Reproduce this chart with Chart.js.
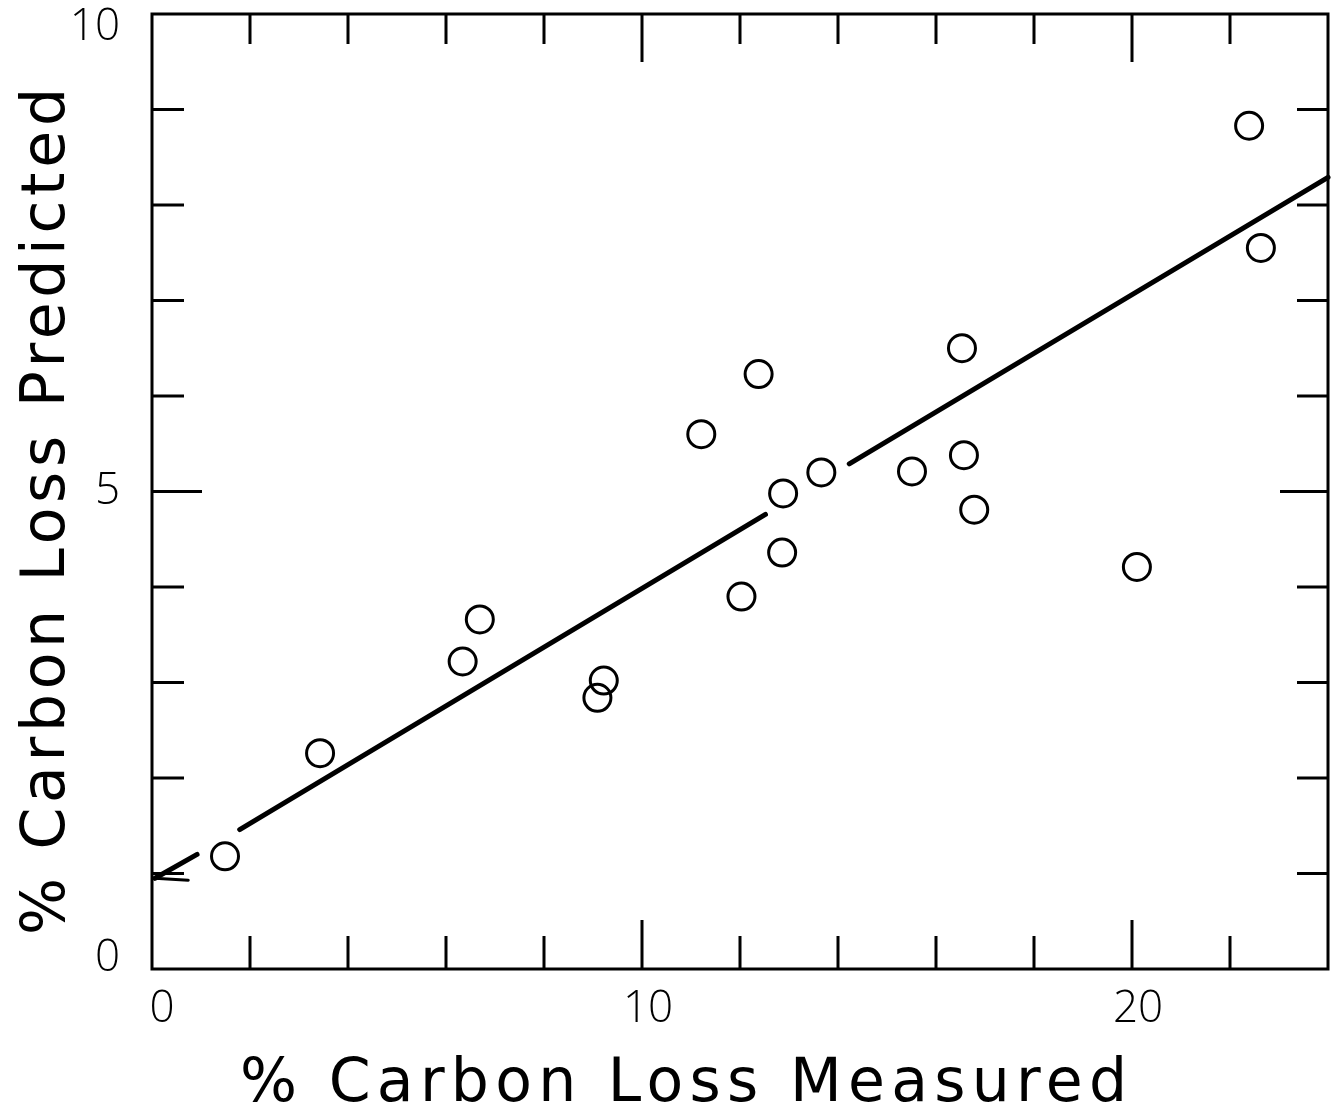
<!DOCTYPE html>
<html>
<head>
<meta charset="utf-8">
<script src="https://cdn.jsdelivr.net/npm/chart.js@4.4.1/dist/chart.umd.min.js"></script>
<style>
html,body{margin:0;padding:0;background:#ffffff;}
#wrap{width:1334px;height:1115px;position:relative;}
canvas{display:block;}
</style>
</head>
<body>
<div id="wrap"><canvas id="c" width="1334" height="1115"></canvas></div>
<script>
// ---- data ----
const measured  = [1.49, 3.43, 6.34, 6.69, 9.09, 9.22, 11.21, 12.03, 12.38, 12.86, 12.88, 13.66, 15.51, 16.53, 16.57, 16.78, 20.10, 22.39, 22.63];
const predicted = [1.18, 2.26, 3.22, 3.66, 2.84, 3.02, 5.60, 3.90, 6.23, 4.36, 4.98, 5.20, 5.21, 6.50, 5.38, 4.81, 4.21, 8.83, 7.55];

// fitted line, drawn as broken segments (null separates segments)
const fitX = [0.06, 0.74, null, 0.06, 0.92, null, 1.79, 12.52, null, 14.23, 24];
const fitY = [0.95, 0.93, null, 0.95, 1.20, null, 1.46, 4.76, null, 5.29, 8.29];

const xTicks = [0, 2, 4, 6, 8, 10, 12, 14, 16, 18, 20, 22, 24];
const xLabels = ['0', '10', '20'];
const yTicks = [0, 1, 2, 3, 4, 5, 6, 7, 8, 9, 10];
const yLabels = ['0', '5', '10'];
const xTitle = '% Carbon Loss Measured';
const yTitle = '% Carbon Loss Predicted';

// ---- build segments ----
const segments = [];
let cur = [];
for (let i = 0; i < fitX.length; i++) {
  if (fitX[i] === null) { if (cur.length) segments.push(cur); cur = []; }
  else cur.push({x: fitX[i], y: fitY[i]});
}
if (cur.length) segments.push(cur);

const datasets = [{
  type: 'scatter',
  label: 'points',
  data: measured.map((v, i) => ({x: v, y: predicted[i]})),
  pointRadius: 13.5,
  pointHoverRadius: 13.5,
  pointBorderWidth: 3,
  pointBackgroundColor: 'rgba(0,0,0,0)',
  pointBorderColor: '#000',
  showLine: false,
  clip: false
}];
segments.forEach((s, i) => datasets.push({
  type: 'line',
  label: 'fit' + i,
  data: s,
  borderColor: '#000',
  borderWidth: i === 0 ? 3 : 5,
  pointRadius: 0,
  borderCapStyle: 'round',
  fill: false,
  tension: 0,
  clip: false
}));

const TICK_FONT = '300 44px "Open Sans", "DejaVu Sans", sans-serif';
const TITLE_FONT = '60px "DejaVu Sans", sans-serif';

const framePlugin = {
  id: 'frame',
  afterDatasetsDraw(chart) {
    const ctx = chart.ctx;
    const a = chart.chartArea;
    const xs = chart.scales.x, ys = chart.scales.y;
    ctx.save();
    ctx.strokeStyle = '#000';
    ctx.lineWidth = 3;
    ctx.lineCap = 'butt';
    ctx.strokeRect(a.left, a.top, a.right - a.left, a.bottom - a.top);
    // x tick marks (bottom and top, inward)
    xTicks.forEach(v => {
      if (v === xs.min || v === xs.max) return;
      const px = xs.getPixelForValue(v);
      const major = v % 10 === 0;
      ctx.beginPath();
      ctx.moveTo(px, a.bottom); ctx.lineTo(px, a.bottom - (major ? 49 : 33));
      ctx.moveTo(px, a.top); ctx.lineTo(px, a.top + (major ? 48 : 30));
      ctx.stroke();
    });
    // y tick marks (left and right, inward)
    yTicks.forEach(v => {
      if (v === ys.min || v === ys.max) return;
      const py = ys.getPixelForValue(v);
      const major = v % 5 === 0;
      ctx.beginPath();
      ctx.moveTo(a.left, py); ctx.lineTo(a.left + (major ? 50 : 32), py);
      ctx.moveTo(a.right, py); ctx.lineTo(a.right - (major ? 48 : 31), py);
      ctx.stroke();
    });
    // tick labels
    ctx.fillStyle = '#000';
    ctx.font = TICK_FONT;
    ctx.textBaseline = 'middle';
    ctx.textAlign = 'center';
    xLabels.forEach(t => {
      const px = xs.getPixelForValue(+t);
      ctx.fillText(t, px + (t === '0' ? 10 : 6), a.bottom + 40);
    });
    ctx.textAlign = 'right';
    yLabels.forEach(t => {
      let py = ys.getPixelForValue(+t);
      if (+t === ys.max) py += 13;
      if (+t === ys.min) py -= 11;
      ctx.fillText(t, a.left - 32, py);
    });
    // axis titles
    ctx.font = TITLE_FONT;
    ctx.textBaseline = 'alphabetic';
    ctx.textAlign = 'left';
    // x title
    ctx.letterSpacing = '0px';
    let w0 = ctx.measureText(xTitle).width;
    let targetW = 887;
    let ls = (targetW - w0) / (xTitle.length - 1);
    ctx.letterSpacing = ls + 'px';
    ctx.fillText(xTitle, 240, 1101);
    // y title
    ctx.letterSpacing = '0px';
    w0 = ctx.measureText(yTitle).width;
    targetW = 847;
    ls = (targetW - w0) / (yTitle.length - 1);
    ctx.letterSpacing = ls + 'px';
    ctx.translate(64, 935);
    ctx.rotate(-Math.PI / 2);
    ctx.fillText(yTitle, 0, 0);
    ctx.restore();
  }
};

new Chart(document.getElementById('c'), {
  type: 'scatter',
  data: { datasets },
  options: {
    responsive: false,
    animation: false,
    devicePixelRatio: 1,
    layout: { autoPadding: false, padding: { top: 14, right: 6, left: 0, bottom: 0 } },
    plugins: { legend: { display: false }, tooltip: { enabled: false } },
    events: [],
    scales: {
      x: {
        type: 'linear', min: 0, max: 24,
        ticks: { display: false },
        grid: { display: false },
        border: { display: false },
        afterFit(s) { s.height = 146; }
      },
      y: {
        type: 'linear', min: 0, max: 10,
        ticks: { display: false },
        grid: { display: false },
        border: { display: false },
        afterFit(s) { s.width = 152; }
      }
    }
  },
  plugins: [framePlugin]
});
</script>
</body>
</html>
